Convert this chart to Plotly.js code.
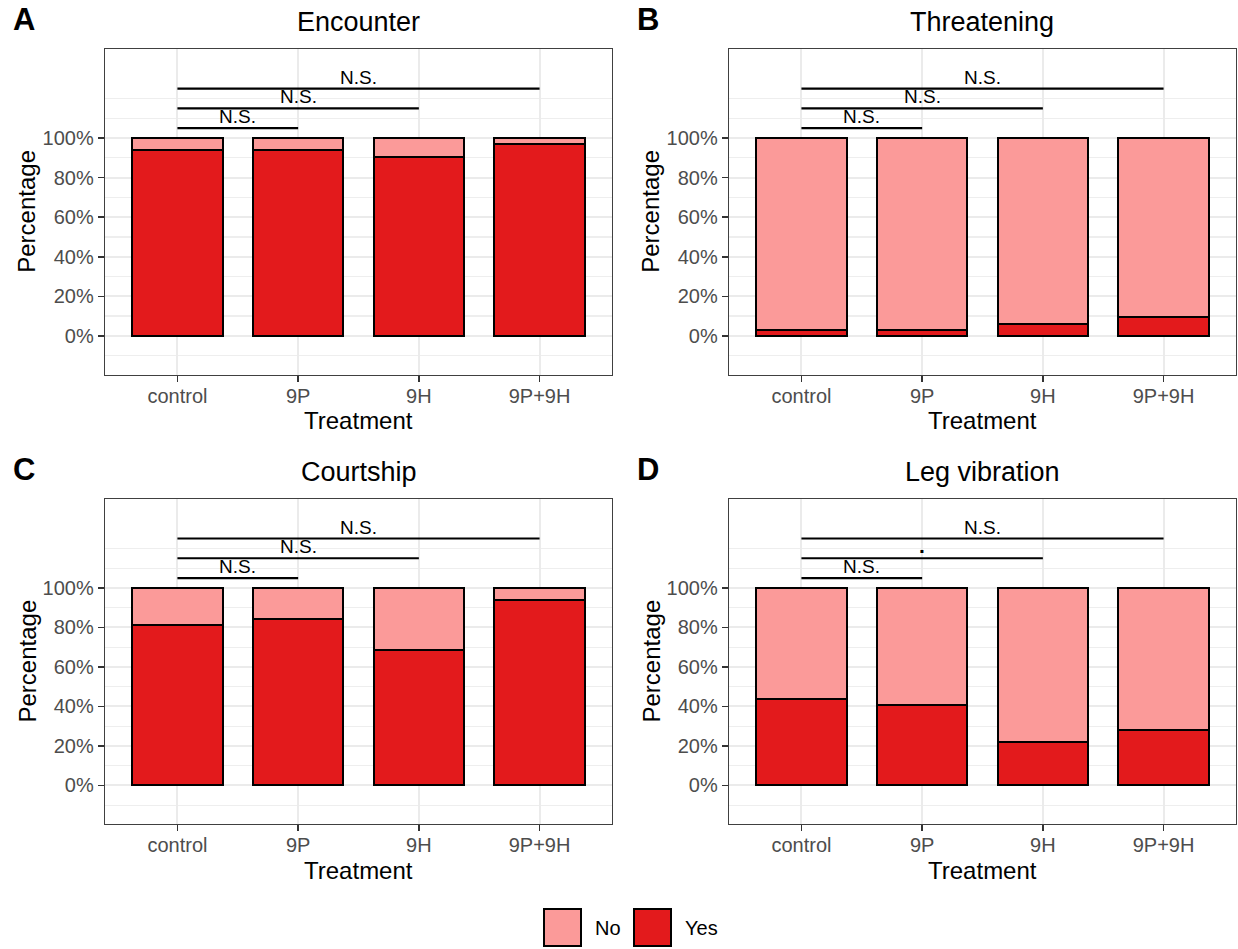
<!DOCTYPE html>
<html>
<head>
<meta charset="utf-8">
<script src="https://cdn.plot.ly/plotly-3.0.1.min.js"></script>
<style>
  html, body { margin: 0; padding: 0; background: #ffffff; }
  #chart { width: 1238px; height: 949px; }
</style>
</head>
<body>
<div id="chart"></div>
<script>
// Treatments on the x axis
const treatments = ['control', '9P', '9H', '9P+9H'];

// Percentage of animals showing each behaviour (Yes) or not (No)
const encounterYes   = [93.75, 93.75, 90.6, 96.9];
const encounterNo    = [6.25, 6.25, 9.4, 3.1];
const threateningYes = [3.1, 3.1, 6.25, 9.4];
const threateningNo  = [96.9, 96.9, 93.75, 90.6];
const courtshipYes   = [81.25, 84.4, 68.75, 93.75];
const courtshipNo    = [18.75, 15.6, 31.25, 6.25];
const legVibYes      = [43.75, 40.6, 21.9, 28.1];
const legVibNo       = [56.25, 59.4, 78.1, 71.9];

// Pairwise comparisons against control
const bracketFrom  = ['control', 'control', 'control'];
const bracketTo    = ['9P', '9H', '9P+9H'];
const bracketLevel = [105, 115, 125];
const labelsA = ['N.S.', 'N.S.', 'N.S.'];
const labelsB = ['N.S.', 'N.S.', 'N.S.'];
const labelsC = ['N.S.', 'N.S.', 'N.S.'];
const labelsD = ['N.S.', '.', 'N.S.'];

// Axis ticks
const yTickVals  = [0, 20, 40, 60, 80, 100];
const yTickText  = ['0%', '20%', '40%', '60%', '80%', '100%'];
const yMinorVals = [-10, 10, 30, 50, 70, 90, 110, 120];

const panelTitles  = ['Encounter', 'Threatening', 'Courtship', 'Leg vibration'];
const panelLetters = ['A', 'B', 'C', 'D'];

const COL_NO  = '#FB9A99';
const COL_YES = '#E31A1C';
const FONT = 'Liberation Sans, Arial, Helvetica, sans-serif';

const W = 1238, H = 949;
const px = v => v / W;          // pixel -> paper x
const py = v => 1 - v / H;      // pixel -> paper y

// Panel frames in pixels: [left, right, top, bottom]
const frames = [
  [105, 612, 49, 374.5],
  [729, 1236, 49, 374.5],
  [105, 612, 499, 824],
  [729, 1236, 499, 824]
];

const panels = [
  {yes: encounterYes,   no: encounterNo,   labels: labelsA},
  {yes: threateningYes, no: threateningNo, labels: labelsB},
  {yes: courtshipYes,   no: courtshipNo,   labels: labelsC},
  {yes: legVibYes,      no: legVibNo,      labels: labelsD}
];

const traces = [];
const annotations = [];
const shapes = [];
const layout = {
  width: W, height: H,
  margin: {l: 0, r: 0, t: 0, b: 0},
  paper_bgcolor: '#ffffff',
  plot_bgcolor: '#ffffff',
  barmode: 'stack',
  bargap: 0.25,
  showlegend: false,
  font: {family: FONT, color: '#000000'}
};

panels.forEach((p, i) => {
  const n = i + 1;
  const xa = 'x' + (n === 1 ? '' : n);
  const ya = 'y' + (n === 1 ? '' : n);
  const fr = frames[i];

  traces.push({
    type: 'bar', name: 'Yes', x: treatments, y: p.yes,
    xaxis: xa, yaxis: ya, width: 0.75,
    marker: {color: COL_YES, line: {color: '#000000', width: 2}},
    hoverinfo: 'x+y'
  });
  traces.push({
    type: 'bar', name: 'No', x: treatments, y: p.no,
    xaxis: xa, yaxis: ya, width: 0.75,
    marker: {color: COL_NO, line: {color: '#000000', width: 2}},
    hoverinfo: 'x+y'
  });

  // comparison brackets
  bracketTo.forEach((to, k) => {
    traces.push({
      type: 'scatter', mode: 'lines',
      x: [bracketFrom[k], to], y: [bracketLevel[k], bracketLevel[k]],
      xaxis: xa, yaxis: ya,
      line: {color: '#000000', width: 2.2},
      hoverinfo: 'skip'
    });
    const mid = (treatments.indexOf(bracketFrom[k]) + treatments.indexOf(to)) / 2;
    const lab = p.labels[k];
    annotations.push({
      xref: xa, yref: ya, x: mid, y: bracketLevel[k],
      text: lab === '.' ? '<b>.</b>' : lab, showarrow: false,
      xanchor: 'center', yanchor: 'bottom', yshift: -1,
      font: {family: FONT, size: lab === '.' ? 21 : 19, color: '#000000'}
    });
  });

  const axX = {
    domain: [px(fr[0]), px(fr[1])],
    anchor: ya,
    type: 'category',
    categoryorder: 'array', categoryarray: treatments,
    range: [-0.6, 3.6],
    showline: true, mirror: true, linecolor: '#404040', linewidth: 1.3,
    ticks: 'outside', ticklen: 6, tickwidth: 1.5, tickcolor: '#333333',
    ticklabelstandoff: -3,
    tickfont: {family: FONT, size: 20, color: '#4D4D4D'},
    showgrid: true, gridcolor: '#EBEBEB', gridwidth: 2,
    zeroline: false, fixedrange: true
  };
  const axY = {
    domain: [py(fr[3]), py(fr[2])],
    anchor: xa,
    range: [-19.5, 145],
    tickmode: 'array', tickvals: yTickVals, ticktext: yTickText,
    showline: true, mirror: true, linecolor: '#404040', linewidth: 1.3,
    ticks: 'outside', ticklen: 6, tickwidth: 1.5, tickcolor: '#333333',
    tickfont: {family: FONT, size: 20, color: '#4D4D4D'},
    showgrid: true, gridcolor: '#EBEBEB', gridwidth: 2,
    minor: {tickmode: 'array', tickvals: yMinorVals, showgrid: true,
            gridcolor: '#EEEEEE', gridwidth: 1.3, ticks: ''},
    zeroline: false, fixedrange: true
  };
  layout['xaxis' + (n === 1 ? '' : n)] = axX;
  layout['yaxis' + (n === 1 ? '' : n)] = axY;

  const cx = (fr[0] + fr[1]) / 2;
  const cy = (fr[2] + fr[3]) / 2;
  // panel title
  annotations.push({
    xref: 'paper', yref: 'paper', x: px(cx), y: py(fr[2] - 27),
    text: panelTitles[i], showarrow: false,
    xanchor: 'center', yanchor: 'middle',
    font: {family: FONT, size: 27, color: '#000000'}
  });
  // panel letter
  annotations.push({
    xref: 'paper', yref: 'paper', x: px(fr[0] - 94), y: py(fr[2] - 29),
    text: '<b>' + panelLetters[i] + '</b>', showarrow: false,
    xanchor: 'left', yanchor: 'middle',
    font: {family: FONT, size: 31, color: '#000000'}
  });
  // axis titles
  annotations.push({
    xref: 'paper', yref: 'paper', x: px(cx), y: py(fr[3] + 46),
    text: 'Treatment', showarrow: false,
    xanchor: 'center', yanchor: 'middle',
    font: {family: FONT, size: 24, color: '#000000'}
  });
  annotations.push({
    xref: 'paper', yref: 'paper', x: px(fr[0] - 78), y: py(cy),
    text: 'Percentage', showarrow: false, textangle: -90,
    xanchor: 'center', yanchor: 'middle',
    font: {family: FONT, size: 24, color: '#000000'}
  });
});

// Shared legend at the bottom
const legendItems = [
  {label: 'No',  color: COL_NO,  x0: 544},
  {label: 'Yes', color: COL_YES, x0: 634}
];
legendItems.forEach(it => {
  shapes.push({
    type: 'rect', xref: 'paper', yref: 'paper',
    x0: px(it.x0), x1: px(it.x0 + 37), y0: py(946), y1: py(909),
    fillcolor: it.color, line: {color: '#000000', width: 2}
  });
  annotations.push({
    xref: 'paper', yref: 'paper', x: px(it.x0 + 49), y: py(928),
    text: it.label, showarrow: false, xanchor: 'left', yanchor: 'middle',
    font: {family: FONT, size: 20, color: '#000000'}
  });
});

layout.annotations = annotations;
layout.shapes = shapes;

Plotly.newPlot('chart', traces, layout, {displayModeBar: false, staticPlot: true});
</script>
</body>
</html>
